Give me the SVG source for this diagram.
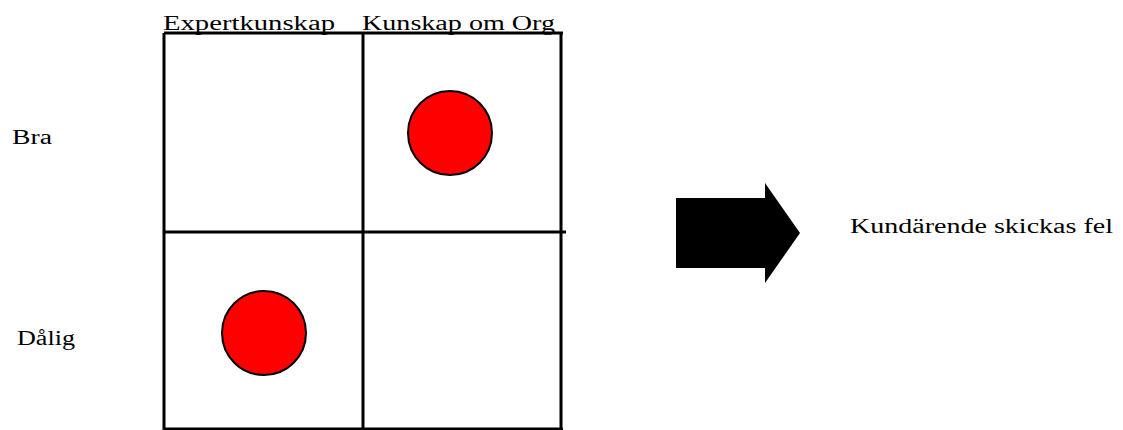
<svg xmlns="http://www.w3.org/2000/svg" width="1123" height="430" viewBox="0 0 1123 430">
<style>
.t{font-family:"Liberation Serif",serif;font-size:20px;fill:#000}
.ln{stroke:#000;stroke-width:3;fill:none}
.dot{fill:#ff0000;stroke:#000;stroke-width:2}
</style>
<rect width="1123" height="430" fill="#fff"/>
<g id="grid">
<line class="ln" x1="164" y1="33" x2="563" y2="33"/>
<line class="ln" x1="164" y1="33" x2="164" y2="430"/>
<line class="ln" x1="363" y1="33" x2="363" y2="430"/>
<line class="ln" x1="561" y1="33" x2="561" y2="430"/>
<line class="ln" x1="164" y1="232" x2="566" y2="232"/>
<line class="ln" x1="164" y1="429" x2="563" y2="429"/>
</g>
<g id="labels">
<text class="t" x="163" y="30" textLength="172" lengthAdjust="spacingAndGlyphs">Expertkunskap</text>
<text class="t" x="362" y="30" textLength="193" lengthAdjust="spacingAndGlyphs">Kunskap om Org</text>
<text class="t" x="12" y="144" textLength="40" lengthAdjust="spacingAndGlyphs">Bra</text>
<text class="t" x="17" y="345" textLength="58" lengthAdjust="spacingAndGlyphs">Dålig</text>
</g>
<g id="dot1"><circle class="dot" cx="450" cy="133" r="42"/></g>
<g id="dot2"><circle class="dot" cx="264" cy="333" r="42"/></g>
<g id="arrow"><polygon points="676,198 765,198 765,183 800,233 765,283 765,268 676,268" fill="#000"/></g>
<g id="result"><text class="t" x="850" y="233" textLength="263" lengthAdjust="spacingAndGlyphs">Kundärende skickas fel</text></g>
</svg>
